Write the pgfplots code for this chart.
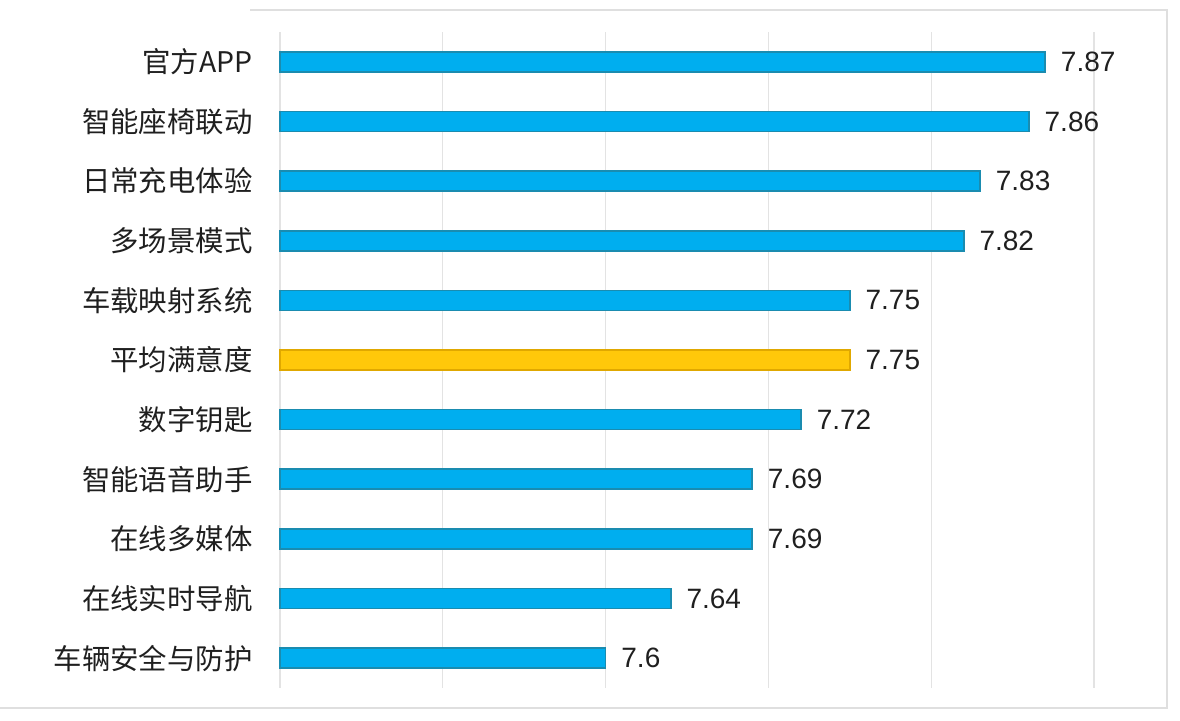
\documentclass[border=0pt]{standalone}
\usepackage{pgfplots}
\pgfplotsset{compat=1.18}
\usepackage{fontspec}
\setmainfont{Liberation Sans}
\newfontfamily\cjk{Noto Sans CJK SC}
\definecolor{barblue}{HTML}{00AEEF}
\definecolor{barblueedge}{HTML}{1A8CB0}
\definecolor{baryellow}{HTML}{FFC80A}
\definecolor{baryellowedge}{HTML}{E0A800}
\begin{document}
\begin{tikzpicture}[x=1pt,y=1pt]
\useasboundingbox (0,0) rectangle (590,360);
\draw[gray!25, line width=0.8pt] (0,6) -- (583.5,6) -- (583.5,355) -- (125,355);
\begin{axis}[
  at={(140pt,16pt)}, anchor=south west,
  scale only axis, width=407pt, height=328pt,
  xbar, bar width=10pt, bar shift=0pt,
  xmin=7.4, xmax=7.9,
  ymin=-0.5, ymax=10.5,
  xtick={7.4,7.5,7.6,7.7,7.8,7.9},
  xticklabels={},
  xmajorgrids, major grid style={gray!22, line width=0.6pt},
  ytick={0,1,2,3,4,5,6,7,8,9,10},
  yticklabels={车辆安全与防护,在线实时导航,在线多媒体,智能语音助手,数字钥匙,平均满意度,车载映射系统,多场景模式,日常充电体验,智能座椅联动,官方APP},
  yticklabel style={font=\cjk\fontsize{14.2}{15}\selectfont, text=black!88, inner sep=0pt},
  yticklabel shift=13.5pt,
  major tick length=0pt,
  axis line style={draw=none},
  nodes near coords,
  every node near coord/.append style={font=\fontsize{14}{15}\selectfont, text=black!88, inner sep=0pt, xshift=7.5pt, anchor=west},
  /pgf/number format/assume math mode=true,
  clip=false,
]
\addplot[fill=barblue, draw=barblueedge, line width=0.8pt] coordinates {
  (7.60,0) (7.64,1) (7.69,2) (7.69,3) (7.72,4) (7.75,6) (7.82,7) (7.83,8) (7.86,9) (7.87,10)
};
\addplot[fill=baryellow, draw=baryellowedge, line width=0.8pt] coordinates {
  (7.75,5)
};
\end{axis}
\end{tikzpicture}
\end{document}
